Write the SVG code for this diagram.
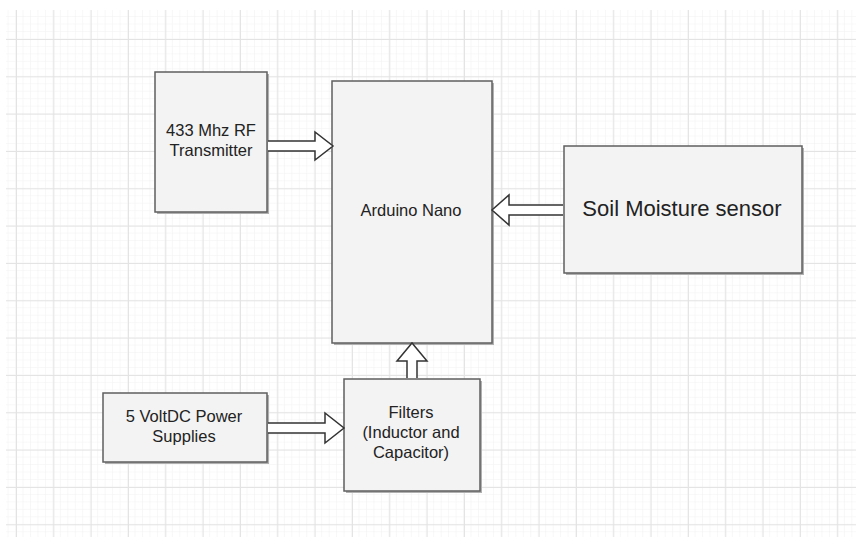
<svg xmlns="http://www.w3.org/2000/svg" width="856" height="537" viewBox="0 0 856 537">
  <defs>
    <pattern id="minor" patternUnits="userSpaceOnUse" x="8.53" y="9.53" width="7.467" height="7.467">
      <path d="M7.467,0 V7.467 M0,7.467 H7.467" fill="none" stroke="#f1f1f1" stroke-width="1"/>
    </pattern>
    <pattern id="major" patternUnits="userSpaceOnUse" x="16" y="39" width="37.33" height="37.33">
      <path d="M0.5,0 V37.33 M0,0.5 H37.33" fill="none" stroke="#e3e3e3" stroke-width="1"/>
    </pattern>
    <style>
      .box { fill: #f3f3f3; stroke: #5f5f5f; stroke-width: 1.5; }
      .shadow { fill: #b0b0b0; }
      .lbl { font-family: "Liberation Sans", Arial, sans-serif; font-size: 16.5px; fill: #222; text-anchor: middle; }
      .big { font-size: 22px; }
      .arrow { fill: #ffffff; stroke: #333; stroke-width: 1.5; stroke-linejoin: miter; }
    </style>
  </defs>
  <rect x="0" y="0" width="856" height="537" fill="#ffffff"/>
  <rect x="6" y="10" width="850" height="527" fill="url(#minor)"/>
  <rect x="6" y="10" width="850" height="527" fill="url(#major)"/>

  <g id="transmitter">
    <rect class="shadow" x="157" y="74" width="112" height="140"/>
    <rect class="box" x="155" y="72" width="112" height="140"/>
    <text class="lbl" x="211" y="136">433 Mhz RF</text>
    <text class="lbl" x="211" y="156">Transmitter</text>
  </g>

  <g id="arduino">
    <rect class="shadow" x="334" y="83" width="160" height="262"/>
    <rect class="box" x="332" y="81" width="160" height="262"/>
    <text class="lbl" x="411" y="216">Arduino Nano</text>
  </g>

  <g id="soil">
    <rect class="shadow" x="566" y="148" width="238" height="127"/>
    <rect class="box" x="564" y="146" width="238" height="127"/>
    <text class="lbl big" x="682" y="216">Soil Moisture sensor</text>
  </g>

  <g id="filters">
    <rect class="shadow" x="346" y="381" width="136" height="112"/>
    <rect class="box" x="344" y="379" width="136" height="112"/>
    <text class="lbl" x="411" y="418">Filters</text>
    <text class="lbl" x="411" y="438">(Inductor and</text>
    <text class="lbl" x="411" y="458">Capacitor)</text>
  </g>

  <g id="power">
    <rect class="shadow" x="105" y="395" width="164" height="69"/>
    <rect class="box" x="103" y="393" width="164" height="69"/>
    <text class="lbl" x="184" y="422">5 VoltDC Power</text>
    <text class="lbl" x="184" y="442">Supplies</text>
  </g>

  <g id="connectors">
    <path class="arrow" d="M268,141 H315 V132 L333,146 L315,160 V151 H268"/>
    <path class="arrow" d="M563,205 H509 V195 L492,210 L509,225 V215 H563"/>
    <path class="arrow" d="M407,378 V361 H397 L412,343 L427,361 H417 V378"/>
    <path class="arrow" d="M268,423 H325 V413 L344,428 L325,443 V433 H268"/>
  </g>
</svg>
